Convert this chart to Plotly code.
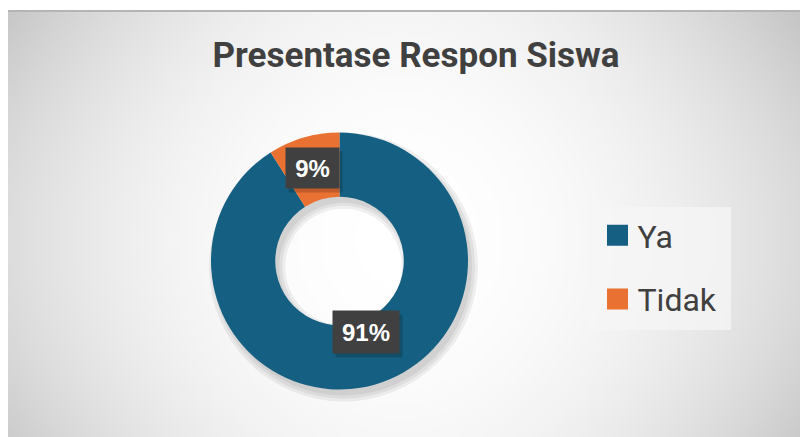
import base64, struct, zlib, math
import plotly.graph_objects as go

# ---- data ----
labels = ["Ya", "Tidak"]
values = [91, 9]
colors = ["#156082", "#E97132"]
title_text = "Presentase Respon Siswa"

# figure size (page body adds 8px margin)
W, H = 800, 429

# ---- background radial gradient image (decorative) ----
def make_png(w, h, fn):
    raw = b""
    for j in range(h):
        raw += b"\x00" + bytes(fn(i, j) for i in range(w))
    def chunk(t, d):
        c = struct.pack(">I", len(d)) + t + d
        return c + struct.pack(">I", zlib.crc32(t + d) & 0xffffffff)
    png = b"\x89PNG\r\n\x1a\n"
    png += chunk(b"IHDR", struct.pack(">IIBBBBB", w, h, 8, 0, 0, 0, 0))
    png += chunk(b"IDAT", zlib.compress(raw, 9))
    png += chunk(b"IEND", b"")
    return "data:image/png;base64," + base64.b64encode(png).decode()

BGX0, BGY0, BGW, BGH = 0, 3, 800, 426
GW, GH = 200, 107
def grad(i, j):
    px = BGX0 + (i + 0.5) * BGW / GW
    py = BGY0 + (j + 0.5) * BGH / GH
    X = ((px - 392) / 400) ** 2
    Y = ((py - 232) / 225) ** 2
    v = 255 - 36 * X - 10 * Y - 12 * X * Y
    return max(0, min(255, int(round(v))))
bg_src = make_png(GW, GH, grad)

# ---- pie geometry (layout) ----
cx, cy, R = 331.5, 253.0, 128.5
hole = 0.5

def domain(cx_, cy_, r_):
    return dict(x=[(cx_ - r_) / W, (cx_ + r_) / W],
                y=[1 - (cy_ + r_) / H, 1 - (cy_ - r_) / H])

fig = go.Figure()

# soft shadow layers behind the donut
for d in (6, 3, 0):
    r_s = R + d
    fig.add_trace(go.Pie(
        values=[sum(values)], labels=["shadow"], hole=(R * hole - d) / r_s,
        marker=dict(colors=["rgba(0,0,0,0.06)"], line=dict(width=0)),
        textinfo="none", hoverinfo="skip", sort=False,
        domain=domain(cx + 4, cy + 6, r_s), showlegend=False,
    ))

fig.add_trace(go.Pie(
    labels=labels, values=values, hole=hole, sort=False,
    direction="clockwise", rotation=0,
    marker=dict(colors=colors, line=dict(width=0)),
    textinfo="none", hoverinfo="label+percent",
    domain=domain(cx, cy, R), showlegend=False,
))

# legend entries (one group per category for spacing)
for lab, col in zip(labels, colors):
    fig.add_trace(go.Scatter(
        x=[None], y=[None], mode="markers", name=lab, legendgroup=lab,
        marker=dict(symbol="square", size=16, color=col, line=dict(width=5, color=col)),
    ))

# ---- data labels at slice mid-angles ----
total = sum(values)
cum = 0
annotations = []
rm = R * (1 + hole) / 2
for v in values:
    theta = math.radians(360 * (cum + v / 2) / total)
    cum += v
    px = cx + rm * math.sin(theta)
    py = cy - rm * math.cos(theta)
    txt = f"{round(100 * v / total)}%"
    bw = 49 if len(txt) <= 2 else 62
    bh = 36 if len(txt) <= 2 else 38
    annotations.append(dict(
        x=(px + 3) / W, y=1 - (py + 4) / H, xref="paper", yref="paper",
        text=" ", showarrow=False, width=bw, height=bh, borderpad=2,
        bgcolor="rgba(0,0,0,0.18)",
    ))
    annotations.append(dict(
        x=px / W, y=1 - py / H, xref="paper", yref="paper",
        text=f"<b>{txt}</b>", showarrow=False, width=bw, height=bh, borderpad=2,
        bgcolor="#404040", font=dict(family="Liberation Sans, Arial", size=24, color="white"),
    ))

fig.update_layout(
    width=W, height=H, margin=dict(l=0, r=0, t=0, b=0),
    paper_bgcolor="white", plot_bgcolor="rgba(0,0,0,0)",
    xaxis=dict(visible=False), yaxis=dict(visible=False),
    title=dict(text=f"<b>{title_text}</b>", x=408 / W, y=1 - 47 / H,
               xanchor="center", yanchor="middle",
               font=dict(family="Roboto, Liberation Sans, Arial", size=35, color="#404040")),
    legend=dict(x=589.5 / W, y=1 - 200 / H, xanchor="left", yanchor="top",
                bgcolor="rgba(0,0,0,0)", borderwidth=0, tracegroupgap=19,
                font=dict(family="Roboto, Liberation Sans, Arial", size=32, color="#404040")),
    images=[dict(source=bg_src, xref="paper", yref="paper",
                 x=BGX0 / W, y=1 - BGY0 / H, sizex=BGW / W, sizey=BGH / H,
                 xanchor="left", yanchor="top", sizing="stretch", layer="below")],
    shapes=[
        dict(type="line", xref="paper", yref="paper",
             x0=BGX0 / W, x1=1, y0=1 - BGY0 / H, y1=1 - BGY0 / H,
             line=dict(color="#b4b4b4", width=2)),
        dict(type="rect", xref="paper", yref="paper", layer="below",
             x0=580 / W, x1=723 / W, y0=1 - 199 / H, y1=1 - 322 / H,
             fillcolor="rgba(245,245,245,0.75)", line=dict(width=0)),
    ],
    annotations=annotations,
)

fig.write_html("out.html")
